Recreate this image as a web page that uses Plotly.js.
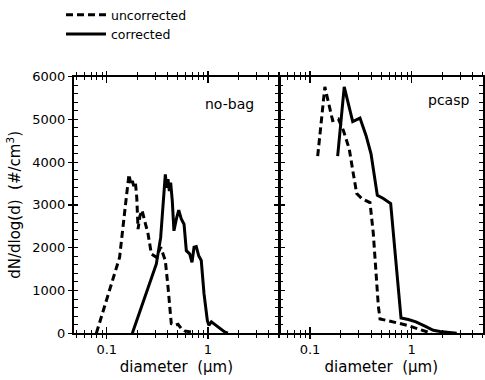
<!DOCTYPE html>
<html>
<head>
<meta charset="utf-8">
<script src="https://cdn.plot.ly/plotly-3.0.1.min.js"></script>
<style>html,body{margin:0;padding:0;background:#fff;}#chart{width:485px;height:380px;}</style>
</head>
<body>
<div id="chart"></div>
<script>
// ---- data ----
const seriesNames = ["uncorrected", "corrected"];
const panelLabels = ["no-bag", "pcasp"];

// no-bag panel
const noBagUncorrD = [0.079,0.134,0.156,0.166,0.173,0.179,0.185,0.192,0.198,0.204,0.213,0.223,0.237,0.256,0.276,0.309,0.341,0.379,0.403,0.434,0.469,0.506,0.545,0.589,0.684];
const noBagUncorrN = [0,1775,3170,3715,3480,3560,3440,3520,3170,2435,2745,2875,2630,2320,1855,1775,2010,1700,1080,225,185,210,110,55,30];
const noBagCorrD = [0.179,0.309,0.341,0.360,0.379,0.391,0.403,0.415,0.428,0.444,0.461,0.491,0.514,0.545,0.580,0.611,0.659,0.695,0.728,0.766,0.809,0.858,0.913,0.985,1.02,1.08,1.165,1.31,1.46,1.57];
const noBagCorrN = [0,1620,2240,3095,3715,3400,3600,3325,3520,3095,2395,2705,2875,2670,2550,1930,1855,1660,2010,2025,1815,1700,925,300,185,265,210,110,30,0];

// pcasp panel
const pcaspUncorrD = [0.119,0.140,0.167,0.190,0.213,0.243,0.263,0.288,0.322,0.389,0.419,0.470,0.488,0.612,0.768,0.927,1.077,1.30,1.57];
const pcaspUncorrN = [4140,5760,4970,5010,4740,4310,3810,3265,3150,3055,2335,630,335,280,225,180,125,60,0];
const pcaspCorrD = [0.187,0.217,0.263,0.310,0.356,0.398,0.459,0.526,0.621,0.701,0.785,0.927,1.10,1.35,1.63,1.90,2.77];
const pcaspCorrN = [4140,5760,4950,5030,4620,4195,3225,3150,3030,1675,355,320,265,165,70,40,0];

const yTickVals = [0,1000,2000,3000,4000,5000,6000];
const xTitle = "diameter  (\u00b5m)";
const yTitle = "dN/dlog(d)  (#/cm<sup>3</sup>)";

// ---- styling ----
const W = 485, H = 380;
const FONT = "DejaVu Sans, sans-serif";
const dashStyle = {color: "#000", width: 3, dash: "7px,4px"};
const solidStyle = {color: "#000", width: 3};

const traces = [
  {x: noBagUncorrD, y: noBagUncorrN, xaxis: "x", yaxis: "y", mode: "lines", line: dashStyle, name: seriesNames[0]},
  {x: noBagCorrD, y: noBagCorrN, xaxis: "x", yaxis: "y", mode: "lines", line: solidStyle, name: seriesNames[1]},
  {x: pcaspUncorrD, y: pcaspUncorrN, xaxis: "x2", yaxis: "y2", mode: "lines", line: dashStyle, name: seriesNames[0], showlegend: false},
  {x: pcaspCorrD, y: pcaspCorrN, xaxis: "x2", yaxis: "y2", mode: "lines", line: solidStyle, name: seriesNames[1], showlegend: false},
  // invisible helpers so the overlay (inward tick) axes are drawn
  {x: [1], y: [0], xaxis: "x3", yaxis: "y3", mode: "markers", marker: {opacity: 0}, showlegend: false, hoverinfo: "skip"},
  {x: [1], y: [0], xaxis: "x4", yaxis: "y4", mode: "markers", marker: {opacity: 0}, showlegend: false, hoverinfo: "skip"}
];

const xL = [73.5 / W, 279.3 / W];
const xR = [279.3 / W, 483.3 / W];
const yD = [47 / H, 305 / H];
const rangeL = [-1.328, 0.704];
const rangeR = [-1.302, 0.704];

function xAxis(domain, range, anchor, withTitle, inward, overlay) {
  const a = {
    type: "log", domain: domain, range: range, anchor: anchor,
    showline: true, linecolor: "#000", linewidth: 1.5, mirror: "allticks",
    showgrid: false, zeroline: false, dtick: 1,
    ticks: inward ? "inside" : "outside", ticklen: inward ? 6 : 4, tickwidth: 1.2, tickcolor: "#000",
    minor: {dtick: "D1", ticks: inward ? "inside" : "outside", ticklen: 3, tickwidth: 1, tickcolor: "#000", showgrid: false},
    showticklabels: !inward,
    tickfont: {family: FONT, size: 13, color: "#000"},
    fixedrange: true
  };
  if (withTitle) a.title = {text: xTitle, font: {family: FONT, size: 15, color: "#000"}, standoff: 5};
  if (overlay) a.overlaying = overlay;
  return a;
}
function yAxis(anchor, showLabels, inward, overlay) {
  const a = {
    domain: yD, range: [0, 6000], anchor: anchor,
    showline: true, linecolor: "#000", linewidth: 1.5, mirror: "allticks",
    showgrid: false, zeroline: false, tickvals: yTickVals,
    ticks: inward ? "inside" : "outside", ticklen: 4, tickwidth: 1.2, tickcolor: "#000",
    showticklabels: showLabels && !inward,
    tickfont: {family: FONT, size: 13, color: "#000"},
    fixedrange: true
  };
  if (!inward) a.minor = {dtick: 200, ticks: "inside", ticklen: 4, tickwidth: 1, tickcolor: "#000", showgrid: false};
  if (overlay) a.overlaying = overlay;
  return a;
}

const yAx1 = yAxis("x", true, false);
yAx1.title = {text: yTitle, font: {family: FONT, size: 15, color: "#000"}, standoff: 8};

const layout = {
  width: W, height: H,
  margin: {l: 0, r: 0, t: 0, b: 0},
  paper_bgcolor: "#fff", plot_bgcolor: "#fff",
  showlegend: true,
  legend: {x: 61 / W, y: 1.005, xanchor: "left", yanchor: "top", bgcolor: "rgba(0,0,0,0)",
           font: {family: FONT, size: 12.5, color: "#000"}, itemwidth: 40, tracegroupgap: 0},
  xaxis: xAxis(xL, rangeL, "y", true, false),
  xaxis2: xAxis(xR, rangeR, "y2", true, false),
  xaxis3: xAxis(xL, rangeL, "y3", false, true, "x"),
  xaxis4: xAxis(xR, rangeR, "y4", false, true, "x2"),
  yaxis: yAx1,
  yaxis2: yAxis("x2", false, false),
  yaxis3: yAxis("x3", false, true, "y"),
  yaxis4: yAxis("x4", false, true, "y2"),
  annotations: [
    {xref: "x domain", yref: "y domain", x: 0.76, y: 0.895, xanchor: "center", yanchor: "middle",
     text: panelLabels[0], showarrow: false, font: {family: FONT, size: 14, color: "#000"}},
    {xref: "x2 domain", yref: "y2 domain", x: 0.83, y: 0.91, xanchor: "center", yanchor: "middle",
     text: panelLabels[1], showarrow: false, font: {family: FONT, size: 14, color: "#000"}}
  ]
};

Plotly.newPlot("chart", traces, layout, {staticPlot: true, displayModeBar: false});
</script>
</body>
</html>
